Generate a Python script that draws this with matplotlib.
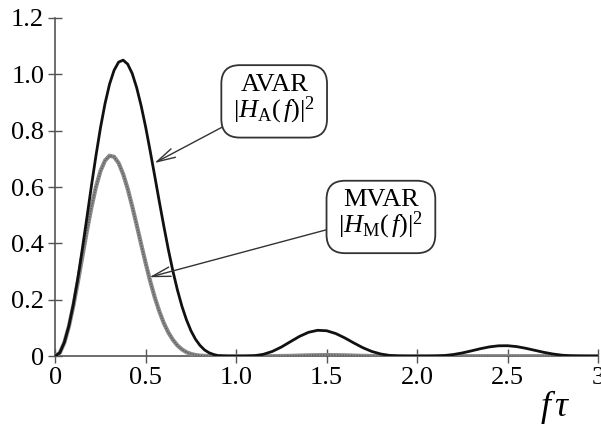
import matplotlib.pyplot as plt
import numpy as np

plt.rcParams['font.family'] = 'Liberation Serif'
plt.rcParams['mathtext.fontset'] = 'custom'
plt.rcParams['mathtext.rm'] = 'Liberation Serif'
plt.rcParams['mathtext.it'] = 'Liberation Serif:italic'

# f*tau values (dense near the main lobe)
ftau = [0, 0.025, 0.05, 0.075, 0.1, 0.125, 0.15, 0.175, 0.2, 0.225, 0.25, 0.275,
        0.3, 0.325, 0.35, 0.375, 0.4, 0.425, 0.45, 0.475, 0.5, 0.525, 0.55, 0.575,
        0.6, 0.625, 0.65, 0.675, 0.7, 0.725, 0.75, 0.775, 0.8, 0.825, 0.85, 0.875,
        0.9, 0.925, 0.95, 0.975, 1.0,
        1.05, 1.1, 1.15, 1.2, 1.25, 1.3, 1.35, 1.4, 1.45, 1.5, 1.55, 1.6, 1.65,
        1.7, 1.75, 1.8, 1.85, 1.9, 1.95, 2.0, 2.05, 2.1, 2.15, 2.2, 2.25, 2.3,
        2.35, 2.4, 2.45, 2.5, 2.55, 2.6, 2.65, 2.7, 2.75, 2.8, 2.85, 2.9, 2.95, 3.0]

avar = [0, 0.012, 0.049, 0.107, 0.185, 0.278, 0.383, 0.493, 0.605, 0.712, 0.811, 0.896,
        0.965, 1.014, 1.043, 1.050, 1.036, 1.003, 0.952, 0.887, 0.811, 0.726, 0.638, 0.548,
        0.461, 0.378, 0.302, 0.235, 0.177, 0.129, 0.090, 0.060, 0.038, 0.022, 0.012, 0.006,
        0.002, 0.001, 0.0001, 0.0, 0.0,
        0.0001, 0.0015, 0.0065, 0.0168, 0.0324, 0.0514, 0.0701, 0.0846, 0.0917, 0.0901,
        0.0803, 0.0648, 0.0469, 0.0300, 0.0165, 0.0075, 0.0025, 0.0005, 0.0, 0.0,
        0.0, 0.0005, 0.0021, 0.0057, 0.0114, 0.0187, 0.0264, 0.0329, 0.0367, 0.0370,
        0.0339, 0.0280, 0.0208, 0.0136, 0.0077, 0.0035, 0.0012, 0.0003, 0.0, 0.0]

mvar = [0, 0.012, 0.048, 0.105, 0.179, 0.264, 0.355, 0.445, 0.529, 0.601, 0.657, 0.694,
        0.711, 0.707, 0.685, 0.646, 0.594, 0.532, 0.465, 0.396, 0.329, 0.265, 0.208, 0.159,
        0.117, 0.084, 0.058, 0.038, 0.024, 0.014, 0.008, 0.004, 0.002, 0.001, 0.0003, 0.0001,
        0.0, 0.0, 0.0, 0.0, 0.0,
        0.0, 0.0, 0.0, 0.0, 0.0005, 0.001, 0.002, 0.003, 0.0035, 0.004,
        0.0035, 0.003, 0.002, 0.001, 0.0005, 0.0, 0.0, 0.0, 0.0, 0.0,
        0.0, 0.0, 0.0, 0.0, 0.0, 0.0, 0.0, 0.0, 0.0, 0.0,
        0.0, 0.0, 0.0, 0.0, 0.0, 0.0, 0.0, 0.0, 0.0, 0.0]

xticks = [0, 0.5, 1.0, 1.5, 2.0, 2.5, 3.0]
xticklabels = ['0', '0.5', '1.0', '1.5', '2.0', '2.5', '3']
yticks = [0, 0.2, 0.4, 0.6, 0.8, 1.0, 1.2]
yticklabels = ['0', '0.2', '0.4', '0.6', '0.8', '1.0', '1.2']

fig = plt.figure(figsize=(6.01, 4.25), dpi=100)
ax = fig.add_axes([0.092, 0.162, 0.903, 0.796])

ax.plot(ftau, mvar, color='#8a8a8a', linewidth=3.0, zorder=2)
ax.plot(ftau, mvar, color='#5a5a5a', linewidth=1.0, linestyle=(0, (1, 1)), zorder=2)
ax.plot(ftau, avar, color='#111111', linewidth=2.0, zorder=3)

ax.set_xlim(0, 3)
ax.set_ylim(0, 1.2)
ax.set_xticks(xticks)
ax.set_xticklabels(xticklabels)
ax.set_yticks(yticks)
ax.set_yticklabels(yticklabels)
ax.tick_params(direction='inout', length=10, width=1, color='#555555',
               labelsize=19, pad=3)
for side in ['top', 'right']:
    ax.spines[side].set_visible(False)
for side in ['left', 'bottom']:
    ax.spines[side].set_color('#555555')
    ax.spines[side].set_linewidth(1.2)
ax.spines['left'].set_zorder(1)
ax.spines['bottom'].set_zorder(1)

box = dict(boxstyle='round,pad=0.45,rounding_size=0.7', facecolor='white',
           edgecolor='#333333', linewidth=1.3)
arrow = dict(arrowstyle='->,head_length=0.7,head_width=0.18', color='#333333',
             linewidth=1.0, shrinkA=0, shrinkB=0)

ax.annotate('AVAR\n$|H_{\\rm A}(\\,f)|^2$', xy=(0.548, 0.685), xytext=(1.21, 0.91),
            ha='center', va='center', fontsize=19, linespacing=0.95,
            bbox=box, arrowprops=arrow, zorder=5)
ax.annotate('MVAR\n$|H_{\\rm M}(\\,f)|^2$', xy=(0.52, 0.28), xytext=(1.80, 0.50),
            ha='center', va='center', fontsize=19, linespacing=0.95,
            bbox=box, arrowprops=arrow, zorder=5)

fig.text(0.923, 0.042, '$f\\,\\tau$', fontsize=26, ha='center', va='center')

fig.savefig('out.png', dpi=100)
